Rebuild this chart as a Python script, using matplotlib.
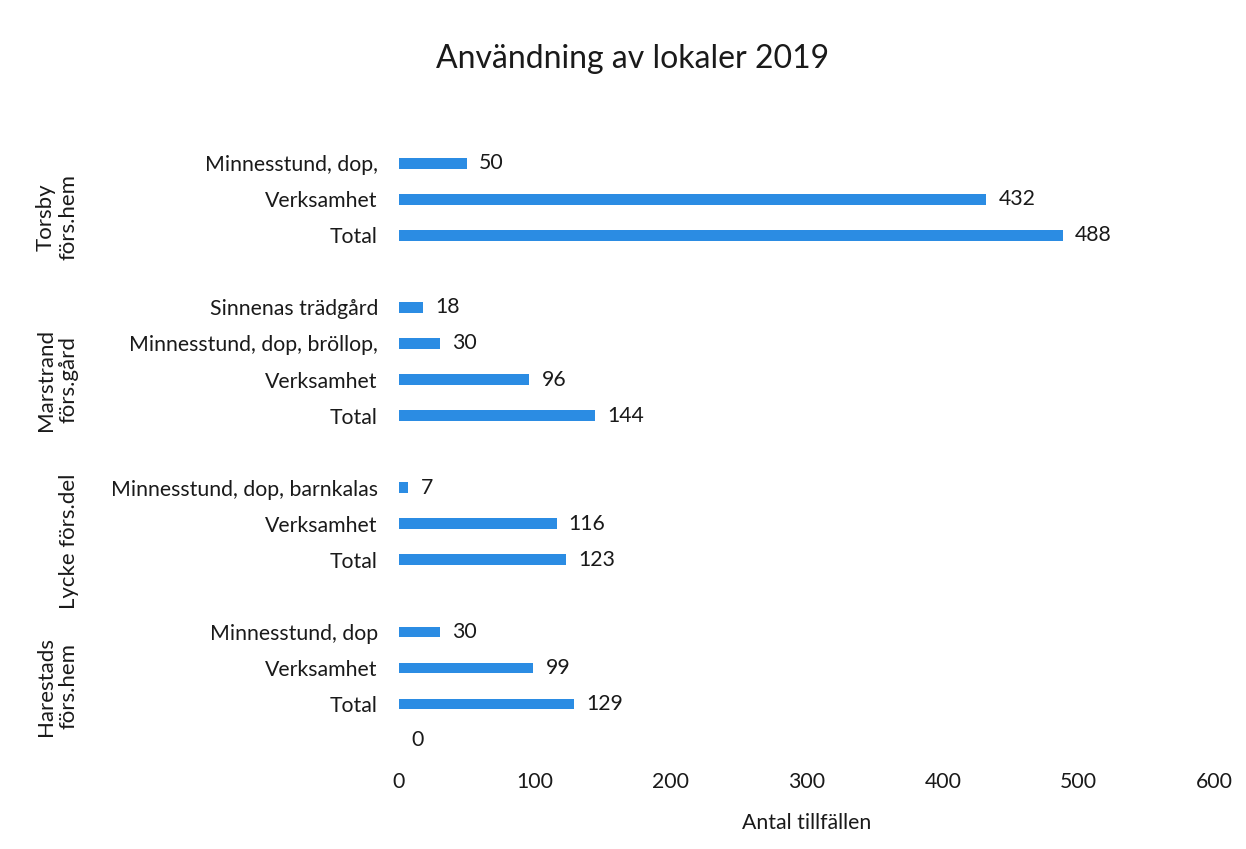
import matplotlib
matplotlib.use("Agg")
import matplotlib.pyplot as plt

plt.rcParams['font.family'] = ['Lato', 'DejaVu Sans']

# rows top to bottom, blank rows separate the groups
row_labels = ["Minnesstund, dop,", "Verksamhet", "Total", "",
              "Sinnenas trädgård", "Minnesstund, dop, bröllop,", "Verksamhet", "Total", "",
              "Minnesstund, dop, barnkalas", "Verksamhet", "Total", "",
              "Minnesstund, dop", "Verksamhet", "Total", ""]
row_values = [50, 432, 488, None,
              18, 30, 96, 144, None,
              7, 116, 123, None,
              30, 99, 129, 0]

group_names = ["Torsby\nförs.hem", "Marstrand\nförs.gård", "Lycke förs.del", "Harestads\nförs.hem"]
group_centers = [1.5, 6, 10.5, 14.5]

x_ticks = [0, 100, 200, 300, 400, 500, 600]

bar_color = "#2B8CE3"
text_color = "#1a1a1a"
fs = 15.3

fig = plt.figure(figsize=(12.46, 8.49), dpi=100)
ax = fig.add_axes([0.320, 0.107, 0.655, 0.722])

ypos = list(range(len(row_labels)))
for y, v in zip(ypos, row_values):
    if v is None:
        continue
    ax.barh(y, v, height=0.3, color=bar_color)
    ax.text(v + 9, y, str(v), va="center", ha="left", fontsize=fs, color=text_color)

ax.set_ylim(len(row_labels) - 0.5, -0.5)
ax.set_xlim(0, 600)
ax.set_yticks(ypos)
ax.set_yticklabels(row_labels, fontsize=fs, color=text_color)
ax.set_xticks(x_ticks)
ax.set_xticklabels([str(t) for t in x_ticks], fontsize=fs, color=text_color)
ax.tick_params(axis="y", length=0, pad=15)
ax.tick_params(axis="x", length=0, pad=10)
for s in ax.spines.values():
    s.set_visible(False)

ax.set_xlabel("Antal tillfällen", fontsize=fs, color=text_color, labelpad=15)
fig.suptitle("Användning av lokaler 2019", fontsize=23, color=text_color, y=0.948, x=0.508)

# group labels, right side of the rotated text lined up
for name, yc in zip(group_names, group_centers):
    ax.text(-0.392, yc, name, transform=ax.get_yaxis_transform(), rotation=90,
            ha="right", va="center", fontsize=16, color=text_color, multialignment="center",
            linespacing=1.2)

fig.savefig("out.png", dpi=100)
